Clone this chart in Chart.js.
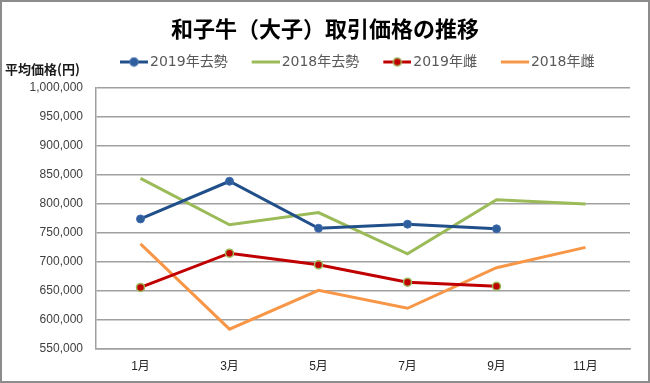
<!DOCTYPE html>
<html>
<head>
<meta charset="utf-8">
<script src="https://cdn.jsdelivr.net/npm/chart.js@4"></script>
<style>
  html, body { margin: 0; padding: 0; background: #fff; }
  #wrap { width: 650px; height: 383px; position: relative; }
</style>
</head>
<body>
<div id="wrap"><canvas id="c" width="650" height="383"></canvas></div>
<script>
const chartTitle = '和子牛（大子）取引価格の推移';
const yAxisTitle = '平均価格(円)';
const categories = ['1月', '3月', '5月', '7月', '9月', '11月'];
const seriesNames = ['2019年去勢', '2018年去勢', '2019年雌', '2018年雌'];
const steer2019 = [773000, 838000, 757000, 764000, 756000, null];
const steer2018 = [843000, 763000, 784000, 713000, 806000, 799000];
const heifer2019 = [655000, 714000, 694000, 664000, 657000, null];
const heifer2018 = [730000, 583000, 650000, 619000, 689000, 724000];
const yTicks = [550000, 600000, 650000, 700000, 750000, 800000, 850000, 900000, 950000, 1000000];

const CJK = "'Noto Sans CJK JP'";
const LAT = "'Liberation Sans', 'Noto Sans CJK JP'";

function legendImage(color, markerFill, markerBorder) {
  const cv = document.createElement('canvas');
  cv.width = 47; cv.height = 11;
  const g = cv.getContext('2d');
  g.strokeStyle = color; g.lineWidth = 3;
  g.beginPath(); g.moveTo(19, 5.5); g.lineTo(47, 5.5); g.stroke();
  if (markerFill) {
    g.beginPath(); g.arc(33, 5.5, 4, 0, Math.PI * 2);
    g.fillStyle = markerFill; g.fill();
    g.lineWidth = 1.5; g.strokeStyle = markerBorder; g.stroke();
  }
  return cv;
}

const datasets = [
  { label: seriesNames[0], data: steer2019, borderColor: '#204F8A', backgroundColor: '#204F8A',
    pointRadius: 4, pointBackgroundColor: '#2F5E9C', pointBorderColor: '#3F6DAE', pointBorderWidth: 1,
    legendImg: legendImage('#204F8A', '#2F5E9C', '#3F6DAE') },
  { label: seriesNames[1], data: steer2018, borderColor: '#9BBB59', backgroundColor: '#9BBB59',
    pointRadius: 0, legendImg: legendImage('#9BBB59') },
  { label: seriesNames[2], data: heifer2019, borderColor: '#C00000', backgroundColor: '#C00000',
    pointRadius: 4, pointBackgroundColor: '#C00000', pointBorderColor: '#9BBB59', pointBorderWidth: 1.5,
    legendImg: legendImage('#C00000', '#C00000', '#9BBB59') },
  { label: seriesNames[3], data: heifer2018, borderColor: '#F79646', backgroundColor: '#F79646',
    pointRadius: 0, legendImg: legendImage('#F79646') }
].map(d => Object.assign({ borderWidth: 3, tension: 0, fill: false, pointHoverRadius: 4 }, d));

const extras = {
  id: 'extras',
  afterDraw(chart) {
    const ctx = chart.ctx;
    ctx.save();
    ctx.font = "bold 13px " + CJK;
    ctx.fillStyle = '#1a1a1a';
    ctx.textBaseline = 'middle';
    ctx.textAlign = 'left';
    ctx.fillText(yAxisTitle, 5, 69);
    ctx.strokeStyle = '#8c8c8c';
    ctx.lineWidth = 2;
    ctx.strokeRect(1, 1, 648, 381);
    ctx.restore();
  }
};

new Chart(document.getElementById('c'), {
  type: 'line',
  data: { labels: categories, datasets },
  plugins: [extras],
  options: {
    responsive: false,
    animation: false,
    layout: { padding: 0 },
    plugins: {
      title: {
        display: true, text: chartTitle, color: '#000',
        font: { family: CJK, size: 22, weight: 'bold', lineHeight: 1.2 },
        padding: { top: 15, bottom: 3.6 }
      },
      subtitle: {
        display: true, text: '', weight: 500, position: 'top',
        font: { size: 8.3, lineHeight: 1 }, padding: 0
      },
      legend: {
        display: true, position: 'top', align: 'start', fullSize: false,
        labels: {
          usePointStyle: true, pointStyleWidth: 37, padding: 10,
          color: '#595959',
          font: { family: "'DejaVu Sans', 'Noto Sans CJK JP'", size: 14 },
          generateLabels(chart) {
            return chart.data.datasets.map((ds, i) => ({
              text: ds.label, pointStyle: ds.legendImg, fillStyle: ds.borderColor,
              strokeStyle: ds.borderColor, lineWidth: 0, hidden: false, datasetIndex: i,
              fontColor: '#595959'
            }));
          }
        }
      },
      tooltip: { enabled: false }
    },
    scales: {
      x: {
        type: 'category', offset: true,
        grid: { display: false, drawTicks: false },
        border: { display: true, color: '#A0A0A0', width: 1.5 },
        ticks: { color: '#262626', font: { family: LAT, size: 12 }, padding: 11.5, maxRotation: 0 },
        afterFit(s) { s.height = 34.7; }
      },
      y: {
        type: 'linear', position: 'left', min: 550000, max: 1000000,
        afterBuildTicks(s) { s.ticks = yTicks.map(v => ({ value: v })); },
        grid: { color: '#A0A0A0', lineWidth: 1.5, drawTicks: false },
        border: { display: true, color: '#A0A0A0', width: 1.5 },
        ticks: {
          color: '#404040', font: { family: LAT, size: 12 }, padding: 13,
          callback: v => v.toLocaleString('en-US')
        },
        afterFit(s) { s.width = 96; }
      },
      yR: {
        type: 'linear', position: 'right', display: true,
        grid: { display: false, drawTicks: false },
        border: { display: false },
        ticks: { display: false },
        afterFit(s) { s.width = 20; }
      }
    }
  }
});
</script>
</body>
</html>
